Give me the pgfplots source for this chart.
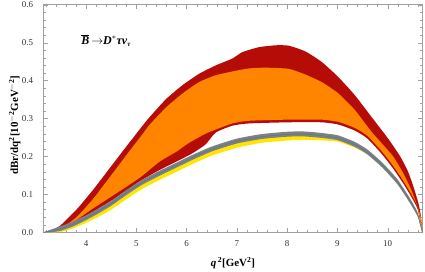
\documentclass[border=0pt]{standalone}
\usepackage{pgfplots}
\pgfplotsset{compat=1.18}
\usepackage{fontspec}
\setmainfont{Liberation Serif}
\definecolor{dred}{RGB}{182,12,8}
\definecolor{morange}{RGB}{255,132,0}
\definecolor{myellow}{RGB}{255,230,0}
\definecolor{mgray}{RGB}{128,128,128}
\definecolor{mblue}{RGB}{70,120,165}
\definecolor{framegray}{RGB}{160,160,160}
\begin{document}
\begin{tikzpicture}
\useasboundingbox (-43.7bp,-39.7bp) rectangle (381.3bp,232.3bp);
\begin{axis}[
  scale only axis, width=378.6bp, height=227.6bp,
  xmin=3.157, xmax=10.69, ymin=0, ymax=0.6,
  xtick={4,5,6,7,8,9,10},
  ytick={0,0.1,0.2,0.3,0.4,0.5,0.6},
  yticklabels={0.0,0.1,0.2,0.3,0.4,0.5,0.6},
  xticklabels={4,5,6,7,8,9,10},
  minor xtick={3.2,3.4,3.6,3.8,4.2,4.4,4.6,4.8,5.2,5.4,5.6,5.8,6.2,6.4,6.6,6.8,7.2,7.4,7.6,7.8,8.2,8.4,8.6,8.8,9.2,9.4,9.6,9.8,10.2,10.4,10.6},
  minor ytick={0.02,0.04,0.06,0.08,0.12,0.14,0.16,0.18,0.22,0.24,0.26,0.28,0.32,0.34,0.36,0.38,0.42,0.44,0.46,0.48,0.52,0.54,0.56,0.58},
  tick align=inside, major tick length=4bp, minor tick length=2.4bp,
  axis line style={framegray}, tick style={framegray},
  tick label style={font=\fontsize{9}{10}\selectfont, text=black!80},
  xticklabel style={yshift=-4.5bp},
  yticklabel style={xshift=-7bp},
  xlabel={\textbf{\textit{q}}$^{\,\mathbf{2}}$\textbf{[GeV$^{\mathbf{2}}$]}},
  ylabel={\textbf{dBr/dq$^{\mathbf{2}}$[10$^{\mathbf{-2}}$GeV$^{\mathbf{-2}}$]}},
  label style={font=\fontsize{11}{13}\selectfont},
  xlabel style={at={(rel axis cs:0.5,-0.1362)}, anchor=center},
  ylabel style={at={(rel axis cs:-0.0766,0.471)}, anchor=center},
]
% red outer band (upper edge, then lower edge backwards)
\addplot[fill=dred, draw=none, smooth, tension=0.35] coordinates {
(3.157,0) (3.3,0.006) (3.48,0.017) (3.81,0.060) (4.14,0.112) (4.47,0.169) (4.8,0.226) (5.13,0.282) (5.26,0.303) (5.59,0.351) (5.92,0.388) (6.25,0.418) (6.58,0.440) (6.91,0.458) (7.11,0.475) (7.44,0.488) (7.77,0.493) (8.03,0.492) (8.36,0.477) (8.69,0.449) (9.02,0.409) (9.35,0.361) (9.68,0.304) (10.01,0.247) (10.25,0.200) (10.4,0.162) (10.51,0.122) (10.61,0.078) (10.66,0.045) (10.69,0)
(10.6,0.060) (10.47,0.094) (10.3,0.131) (10.1,0.170) (9.88,0.207) (9.6,0.247) (9.35,0.268) (9.02,0.284) (8.69,0.290) (8.03,0.290) (7.24,0.287) (6.91,0.281) (6.58,0.263) (6.38,0.232) (6.1,0.207) (5.79,0.186) (5.46,0.164) (5.1,0.137) (4.8,0.110) (4.5,0.083) (4.14,0.054) (3.8,0.026) (3.5,0.008) (3.3,0.002) (3.157,0)};
% orange inner band
\addplot[fill=morange, draw=none, smooth, tension=0.35] coordinates {
(3.157,0) (3.3,0.003) (3.5,0.010) (3.81,0.040) (4.14,0.088) (4.47,0.145) (4.8,0.203) (5.13,0.260) (5.26,0.283) (5.59,0.329) (5.92,0.366) (6.25,0.396) (6.58,0.414) (6.91,0.424) (7.24,0.432) (7.57,0.434) (8.03,0.431) (8.36,0.416) (8.69,0.396) (9.02,0.366) (9.35,0.322) (9.68,0.265) (9.88,0.235) (10.11,0.200) (10.31,0.156) (10.46,0.115) (10.58,0.074) (10.66,0.040) (10.69,0)
(10.6,0.066) (10.47,0.101) (10.3,0.138) (10.1,0.177) (9.88,0.214) (9.6,0.254) (9.35,0.275) (9.02,0.291) (8.69,0.297) (8.03,0.297) (7.24,0.294) (6.91,0.287) (6.58,0.271) (6.38,0.260) (6.05,0.236) (5.79,0.212) (5.46,0.186) (5.1,0.147) (4.8,0.120) (4.5,0.094) (4.14,0.063) (3.8,0.032) (3.5,0.011) (3.3,0.003) (3.157,0)};
% yellow band
\addplot[fill=myellow, draw=none, smooth, tension=0.35] coordinates {
(3.157,0) (3.3,0.000) (3.5,0.001) (3.75,0.011) (4.0,0.025) (4.25,0.041) (4.5,0.060) (4.8,0.087) (5.1,0.113) (5.46,0.138) (5.79,0.159) (6.1,0.179) (6.5,0.202) (7.0,0.223) (7.5,0.236) (8.0,0.242) (8.3,0.244) (8.6,0.243) (9.0,0.239) (9.35,0.223) (9.6,0.205) (9.9,0.170) (10.2,0.126) (10.45,0.076) (10.6,0.041) (10.69,0)
(10.6,0.046) (10.45,0.082) (10.2,0.132) (9.9,0.176) (9.6,0.211) (9.35,0.231) (9.0,0.249) (8.6,0.256) (8.3,0.259) (8.0,0.258) (7.5,0.252) (7.0,0.240) (6.5,0.219) (6.1,0.196) (5.79,0.176) (5.46,0.155) (5.1,0.130) (4.8,0.104) (4.5,0.076) (4.25,0.056) (4.0,0.038) (3.75,0.022) (3.5,0.010) (3.3,0.003) (3.157,0)};
% gray band
\addplot[fill=mgray, draw=none, smooth, tension=0.35] coordinates {
(3.157,0) (3.3,0.007) (3.5,0.016) (3.75,0.029) (4.0,0.045) (4.25,0.063) (4.5,0.083) (4.8,0.111) (5.1,0.137) (5.46,0.162) (5.79,0.183) (6.1,0.203) (6.5,0.226) (7.0,0.247) (7.5,0.259) (8.0,0.265) (8.3,0.266) (8.6,0.263) (9.0,0.256) (9.35,0.238) (9.6,0.218) (9.9,0.183) (10.2,0.139) (10.45,0.088) (10.6,0.051) (10.69,0)
(10.6,0.041) (10.45,0.076) (10.2,0.126) (9.9,0.170) (9.6,0.205) (9.35,0.225) (9.0,0.243) (8.6,0.250) (8.3,0.253) (8.0,0.252) (7.5,0.246) (7.0,0.234) (6.5,0.213) (6.1,0.190) (5.79,0.170) (5.46,0.149) (5.1,0.124) (4.8,0.098) (4.5,0.070) (4.25,0.050) (4.0,0.032) (3.75,0.016) (3.5,0.004) (3.3,0.000) (3.157,0)};
% central line
\addplot[mblue, line width=0.5pt, smooth, tension=0.35] coordinates {
(3.157,0) (3.3,0.003) (3.5,0.010) (3.75,0.022) (4.0,0.038) (4.25,0.056) (4.5,0.076) (4.8,0.104) (5.1,0.130) (5.46,0.155) (5.79,0.176) (6.1,0.196) (6.5,0.219) (7.0,0.240) (7.5,0.252) (8.0,0.258) (8.3,0.259) (8.6,0.256) (9.0,0.249) (9.35,0.231) (9.6,0.211) (9.9,0.176) (10.2,0.132) (10.45,0.082) (10.6,0.046) (10.69,0)};
\node[font=\fontsize{12}{14}\selectfont] at (axis cs:4.40,0.506) {$\overline{\mbox{\textbf{\textit{B}}}}$\,$\rightarrow$\textbf{\textit{D}}$^{*}$\textbf{\textit{τν}}$_{\mbox{\scriptsize\textbf{\textit{τ}}}}$};
\end{axis}
\end{tikzpicture}
\end{document}
